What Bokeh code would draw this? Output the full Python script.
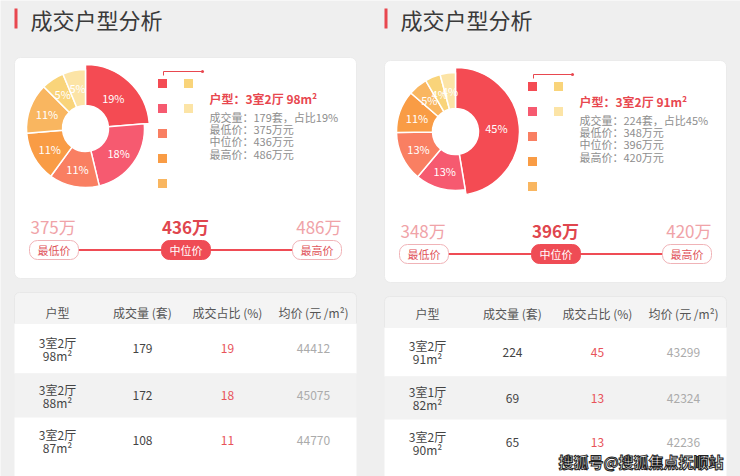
import numpy as np
from bokeh.plotting import figure
from bokeh.models import Range1d, ColumnDataSource
from bokeh.core.properties import value
from bokeh.embed import file_html
from bokeh.resources import INLINE

# ---------------- data ----------------
TITLE = "成交户型分析"
SLICE_COLORS = ["#f44b53", "#f65a70", "#f97f62", "#f99c45", "#f9b660", "#f9d47a", "#fce4a6"]

L_shares = [19, 18, 11, 11, 11, 5, 5]
L_focus_type = "3室2厅 98m²"
L_focus_count = 179
L_focus_pct = 19
L_prices = [375, 436, 486]          # 最低价, 中位价, 最高价 (万)
L_rooms = ["3室2厅", "3室2厅", "3室2厅"]
L_areas = ["98m²", "88m²", "87m²"]
L_counts = [179, 172, 108]
L_pcts = [19, 18, 11]
L_avg = [44412, 45075, 44770]

R_shares = [45, 13, 13, 11, 5, 4, 4]
R_focus_type = "3室2厅 91m²"
R_focus_count = 224
R_focus_pct = 45
R_prices = [348, 396, 420]
R_rooms = ["3室2厅", "3室1厅", "3室2厅"]
R_areas = ["91m²", "82m²", "90m²"]
R_counts = [224, 69, 65]
R_pcts = [45, 13, 13]
R_avg = [43299, 42324, 42236]

HEADERS = ["户型", "成交量 (套)", "成交占比 (%)", "均价 (元 /m²)"]
PRICE_TAGS = ["最低价", "中位价", "最高价"]
WATERMARK = "搜狐号@搜狐焦点抚顺站"

# ---------------- layout ----------------
W, H = 740, 476
FONT = value("Noto Sans CJK SC")
RED = "#e8474f"


def Y(v):
    return H - v


p = figure(width=W, height=H, x_range=Range1d(0, W), y_range=Range1d(0, H),
           output_backend="svg", toolbar_location=None, min_border=0)
p.axis.visible = False
p.grid.visible = False
p.outline_line_color = None
p.background_fill_color = "#efefef"
p.border_fill_color = "#efefef"


def txt(x, y, s, size, color, align="left", style="normal", baseline="middle"):
    p.text(x=[x], y=[Y(y)], text=[s], text_font=FONT, text_font_size=f"{size}px",
           text_color=color, text_align=align, text_baseline=baseline,
           text_font_style=style)


def panel(ox, dy, dy2, shares, ftype, fcount, fpct, prices,
          rooms, areas, counts, pcts, avg, head_top, head_y, rows):
    # title
    p.quad(left=[ox + 14], right=[ox + 17], top=[Y(8)], bottom=[Y(28)],
           fill_color=RED, line_color=None)
    txt(ox + 30, 18, TITLE, 22, "#3a3a3a")

    # card
    p.quad(left=[ox + 14], right=[ox + 356], top=[Y(57 + dy)], bottom=[Y(278 + dy2)],
           fill_color="white", line_color="#ebebeb", border_radius=6)

    # donut
    cx, cy = ox + 85, 128 + dy
    vals = np.array(shares, dtype=float)
    cum = np.concatenate([[0.0], np.cumsum(vals / vals.sum())])
    start = np.pi / 2 - cum[:-1] * 2 * np.pi
    end = np.pi / 2 - cum[1:] * 2 * np.pi
    outer = [64] + [59] * (len(vals) - 1)
    src = ColumnDataSource(dict(start=start, end=end, outer=outer,
                                color=SLICE_COLORS[:len(vals)]))
    p.annular_wedge(x=cx, y=Y(cy), inner_radius=23, outer_radius="outer",
                    start_angle="start", end_angle="end", direction="clock",
                    fill_color="color", line_color="white", line_width=1.5, source=src)
    mid = (start + end) / 2
    lx = cx + 41 * np.cos(mid)
    ly = Y(cy) + 41 * np.sin(mid)
    p.text(x=lx, y=ly, text=[f"{v}%" for v in shares], text_font=FONT,
           text_font_size="11px", text_color="white", text_align="center",
           text_baseline="middle")

    # legend squares
    sq_x = [ox + 162] * 5 + [ox + 188] * 2
    sq_y = [Y(83 + dy + 25 * i) for i in range(5)] + [Y(83 + dy), Y(108 + dy)]
    p.rect(x=sq_x, y=sq_y, width=9, height=9, fill_color=SLICE_COLORS[:len(vals)],
           line_color=None)
    p.line(x=[ox + 163, ox + 163, ox + 202], y=[Y(75 + dy), Y(71 + dy), Y(71 + dy)],
           line_color=RED, line_width=1)
    p.scatter(x=[ox + 202], y=[Y(71 + dy)], size=3, fill_color=RED, line_color=None)

    # focus details
    txt(ox + 209, 98 + dy, "户型：" + ftype, 12, RED, style="bold")
    lines = [f"成交量：{fcount}套，占比{fpct}%", f"最低价：{prices[0]}万元",
             f"中位价：{prices[1]}万元", f"最高价：{prices[2]}万元"]
    for i, s in enumerate(lines):
        txt(ox + 209, 116.5 + dy + 12.2 * i, s, 11, "#8e8e8e")

    # price range
    py = 226 + dy2
    txt(ox + 30, py, f"{prices[0]}万", 17, "#f0a3a8")
    txt(ox + 185, py, f"{prices[1]}万", 17, "#e0464e", align="center", style="bold")
    txt(ox + 341, py, f"{prices[2]}万", 17, "#f0a3a8", align="right")
    ly2 = 249.5 + dy2
    p.line(x=[ox + 78, ox + 292], y=[Y(ly2), Y(ly2)], line_color="#ef4c55", line_width=1.8)
    pills = [(ox + 29, ox + 78), (ox + 161, ox + 210), (ox + 292, ox + 341)]
    for k, (a, b) in enumerate(pills):
        fill = "#ef4c55" if k == 1 else "white"
        lc = "#ef4c55" if k == 1 else "#f0b3b7"
        p.quad(left=[a], right=[b], top=[Y(ly2 - 9.5)], bottom=[Y(ly2 + 9.5)],
               fill_color=fill, line_color=lc, line_width=1, border_radius=8)
        txt((a + b) / 2, ly2, PRICE_TAGS[k], 11, "white" if k == 1 else "#e0555b",
            align="center")

    # table
    p.quad(left=[ox + 14], right=[ox + 356], top=[Y(head_top)], bottom=[Y(rows[0])],
           fill_color="#f4f4f4", line_color="#e8e8e8", border_radius=[5, 5, 0, 0])
    for r in range(3):
        p.quad(left=[ox + 14], right=[ox + 356], top=[Y(rows[r])], bottom=[Y(rows[r + 1])],
               fill_color="white" if r % 2 == 0 else "#f2f2f2", line_color=None)
    cols = [ox + 57, ox + 142, ox + 227, ox + 313]
    for c, h in enumerate(HEADERS):
        txt(cols[c], head_y, h, 12, "#555555", align="center")
    for r in range(3):
        ym = (rows[r] + rows[r + 1]) / 2 if r < 2 else rows[r] + 23
        txt(cols[0], ym - 6.5, rooms[r], 12, "#444444", align="center")
        txt(cols[0], ym + 6.5, areas[r], 12, "#444444", align="center")
        txt(cols[1], ym, str(counts[r]), 12, "#444444", align="center")
        txt(cols[2], ym, str(pcts[r]), 12, "#e8535a", align="center")
        txt(cols[3], ym, str(avg[r]), 12, "#ababab", align="center")


panel(0, 0, 0, L_shares, L_focus_type, L_focus_count, L_focus_pct, L_prices,
      L_rooms, L_areas, L_counts, L_pcts, L_avg, 292, 312, [323, 373, 417, 476])
panel(370, 3, 4, R_shares, R_focus_type, R_focus_count, R_focus_pct, R_prices,
      R_rooms, R_areas, R_counts, R_pcts, R_avg, 296, 313, [327, 376, 419, 476])

# watermark
p.text(x=[723], y=[Y(461)], text=[WATERMARK], text_font=FONT, text_font_size="15px",
       text_color="white", text_outline_color="#222222", text_align="right",
       text_baseline="middle", text_font_style="bold")

open("out.html", "w").write(file_html(p, INLINE))
